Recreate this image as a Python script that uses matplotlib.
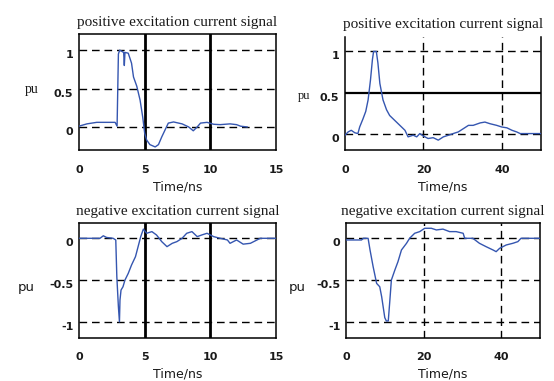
import matplotlib.pyplot as plt

# positive excitation, 0-15 ns window
pos_short_t = [0, 0.6, 1.35, 2.75, 2.9, 3.0, 3.1, 3.4, 3.45, 3.5, 3.75, 4.0, 4.15, 4.4,
               4.65, 4.85, 5.0, 5.15, 5.4, 5.8, 6.05, 6.3, 6.55, 6.8, 7.2, 7.85, 8.35,
               8.7, 9.0, 9.25, 9.75, 10.25, 10.75, 11.5, 12.0, 12.3, 12.8]
pos_short_v = [0.01, 0.04, 0.06, 0.06, 0.01, 0.95, 1.0, 0.97, 0.8, 0.97, 0.96, 0.83, 0.65,
               0.53, 0.35, 0.13, -0.08, -0.17, -0.23, -0.26, -0.23, -0.13, -0.04, 0.05,
               0.065, 0.04, 0.0, -0.05, 0.0, 0.05, 0.06, 0.035, 0.03, 0.04, 0.03, 0.01, 0.0]

# positive excitation, 0-50 ns window
pos_long_t = [0, 0.8, 1.6, 2.5, 3.3, 3.75, 4.6, 5.3, 5.9, 6.5, 7.0, 7.3, 8.0, 8.4, 8.9,
              9.7, 10.6, 11.4, 12.7, 14.0, 15.3, 16.1, 17.4, 18.3, 19.1, 20, 21.2, 22.5,
              23.8, 25.1, 26.4, 27.6, 28.9, 30.2, 31.5, 32.7, 34.5, 35.7, 37.0, 38.7, 40,
              41.3, 42.6, 43.8, 44.7, 50]
pos_long_v = [-0.02, 0.02, 0.04, 0.01, 0.0, 0.08, 0.18, 0.27, 0.41, 0.65, 0.9, 1.0, 1.0,
              0.86, 0.61, 0.41, 0.29, 0.22, 0.16, 0.10, 0.04, -0.04, -0.02, -0.04, 0.0,
              -0.03, -0.06, -0.05, -0.08, -0.04, -0.02, 0.0, 0.02, 0.06, 0.1, 0.1, 0.13,
              0.14, 0.12, 0.10, 0.08, 0.07, 0.04, 0.02, 0.0, 0.0]

# negative excitation, 0-15 ns window
neg_short_t = [0, 1.6, 1.85, 2.1, 2.6, 2.8, 2.88, 2.92, 3.0, 3.08, 3.12, 3.2, 3.35, 3.5,
               3.75, 4.0, 4.3, 4.5, 4.7, 4.9, 5.15, 5.55, 5.9, 6.3, 6.7, 7.1, 7.45, 7.85,
               8.2, 8.6, 9.0, 9.35, 9.75, 10.25, 10.75, 11.3, 11.5, 12.0, 12.5, 13.05,
               13.55, 13.8, 15]
neg_short_v = [0.0, 0.0, 0.03, 0.01, 0.0, -0.02, -0.46, -0.58, -0.82, -1.0, -0.74, -0.62,
               -0.58, -0.5, -0.42, -0.32, -0.22, -0.1, 0.02, 0.11, 0.06, 0.08, 0.04, -0.04,
               -0.1, -0.06, -0.04, 0.0, 0.06, 0.08, 0.02, 0.04, 0.06, 0.02, 0.0, -0.02,
               -0.06, -0.02, -0.07, -0.06, -0.02, 0.0, 0.0]

# negative excitation, 0-50 ns window
neg_long_t = [0, 4, 4.5, 5.7, 6.2, 7.0, 7.9, 8.7, 9.2, 10.0, 10.4, 10.9, 11.3, 11.7, 12.6,
              13.4, 14.3, 15.6, 16.4, 17.7, 19.0, 20.3, 22.0, 23.3, 25.0, 26.7, 28.4,
              30.2, 30.6, 32.7, 34.4, 36.1, 37.9, 38.7, 39.6, 41.3, 43.0, 44.3, 45.1, 50]
neg_long_v = [-0.02, -0.02, 0.0, 0.0, -0.14, -0.34, -0.54, -0.58, -0.7, -0.95, -0.99,
              -0.99, -0.75, -0.5, -0.38, -0.28, -0.14, -0.06, 0.0, 0.06, 0.08, 0.12, 0.12,
              0.1, 0.11, 0.08, 0.08, 0.06, 0.0, 0.0, -0.06, -0.1, -0.14, -0.16, -0.12,
              -0.08, -0.06, -0.04, 0.0, 0.0]

line_color = '#3556b0'
txt = '#1a1a1a'
serif = 'Liberation Serif'
dash = (0, (5.5, 3.5))

fig = plt.figure(figsize=(5.54, 3.81), dpi=100)

def setup(ax, t, v, xlim, ylim, xticks, yticks, vsolid, hsolid, vdash, hdash, title):
    ax.plot(t, v, color=line_color, lw=1.0, zorder=3)
    ax.set_xlim(*xlim)
    ax.set_ylim(*ylim)
    ax.set_xticks(xticks)
    ax.set_yticks(yticks)
    ax.set_yticklabels([('%g' % y) for y in yticks])
    for x in vsolid:
        ax.axvline(x, color='black', lw=2.0, zorder=2)
    for y in hsolid:
        ax.axhline(y, color='black', lw=1.6, zorder=2)
    for x in vdash:
        ax.axvline(x, color='black', lw=1.0, ls=dash, zorder=2)
    for y in hdash:
        ax.axhline(y, color='black', lw=1.0, ls=dash, zorder=2)
    for s in ax.spines.values():
        s.set_linewidth(1.1)
    ax.tick_params(length=0, labelsize=8, colors=txt, pad=4)
    ax.tick_params(axis='x', pad=11)
    for lbl in ax.get_xticklabels() + ax.get_yticklabels():
        lbl.set_fontweight('bold')
    for lbl in ax.get_yticklabels():
        lbl.set_va('top')
    ax.set_title(title, family=serif, fontsize=11, color=txt, pad=6)
    ax.set_xlabel('Time/ns', fontsize=9, color=txt, labelpad=4)

ax1 = fig.add_axes([0.1426, 0.6063, 0.3556, 0.3045])
setup(ax1, pos_short_t, pos_short_v, (0, 15), (-0.3, 1.21), [0, 5, 10, 15], [0, 0.5, 1],
      [5, 10], [], [], [0, 0.5, 1], 'positive excitation current signal')

ax2 = fig.add_axes([0.6227, 0.6063, 0.3538, 0.2975])
setup(ax2, pos_long_t, pos_long_v, (0, 50), (-0.2, 1.18), [0, 20, 40], [0, 0.5, 1],
      [], [0.5], [20, 40], [0, 1], 'positive excitation current signal')
ax2.spines['top'].set_visible(False)

ax3 = fig.add_axes([0.1426, 0.1137, 0.3556, 0.3003])
setup(ax3, neg_short_t, neg_short_v, (0, 15), (-1.19, 0.18), [0, 5, 10, 15], [-1, -0.5, 0],
      [5, 10], [], [], [0, -0.5, -1], 'negative excitation current signal')
ax3.tick_params(axis='x', pad=10)
ax3.title.set_y(0.99)

ax4 = fig.add_axes([0.6245, 0.1137, 0.3502, 0.3003])
setup(ax4, neg_long_t, neg_long_v, (0, 50), (-1.19, 0.18), [0, 20, 40], [-1, -0.5, 0],
      [], [], [20, 40], [0, -0.5, -1], 'negative excitation current signal')
ax4.tick_params(axis='x', pad=10)
ax4.title.set_y(0.99)

# "pu" axis labels
fig.text(25 / 554, 1 - 89 / 381, 'pu', family=serif, fontsize=10, color=txt, va='center')
fig.text(298 / 554, 1 - 96 / 381, 'pu', family=serif, fontsize=9, color=txt, va='center')
fig.text(18 / 554, 1 - 288 / 381, 'pu', fontsize=9.5, color=txt, va='center')
fig.text(289 / 554, 1 - 287 / 381, 'pu', fontsize=9.5, color=txt, va='center')

fig.savefig('out.png', dpi=100)
